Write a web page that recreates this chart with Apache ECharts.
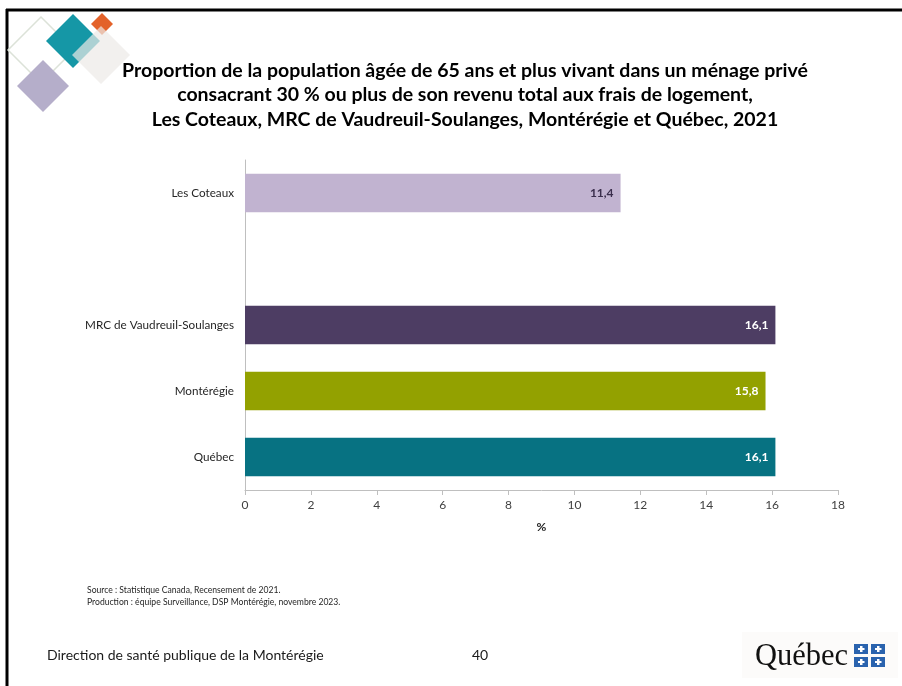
<!DOCTYPE html>
<html>
<head>
<meta charset="utf-8">
<script src="https://cdn.jsdelivr.net/npm/echarts@6/dist/echarts.min.js"></script>
<style>
  html, body { margin: 0; padding: 0; background: #fff; }
  #chart { width: 902px; height: 686px; }
</style>
</head>
<body>
<div id="chart"></div>
<script>
// Territories (an empty slot separates the municipality from the larger regions)
const categories = ['Les Coteaux', '', 'MRC de Vaudreuil-Soulanges', 'Montérégie', 'Québec'];
const values = [11.4, null, 16.1, 15.8, 16.1];
const barColors = ['#C1B3D0', 'transparent', '#4D3D63', '#93A100', '#077282'];
const labelColors = ['#3A2E4C', '#fff', '#ffffff', '#ffffff', '#ffffff'];
const xTicks = [0, 2, 4, 6, 8, 10, 12, 14, 16, 18];

const titleLines = [
  'Proportion de la population âgée de 65 ans et plus vivant dans un ménage privé',
  'consacrant 30 % ou plus de son revenu total aux frais de logement,',
  'Les Coteaux, MRC de Vaudreuil-Soulanges, Montérégie et Québec, 2021'
];
const sourceLines = [
  'Source : Statistique Canada, Recensement de 2021.',
  'Production : équipe Surveillance, DSP Montérégie, novembre 2023.'
];

const FONT = 'Lato, "Open Sans", sans-serif';
const fmt = v => String(v).replace('.', ',');

function diamond(cx, cy, r) {
  return [[cx, cy - r], [cx + r, cy], [cx, cy + r], [cx - r, cy]];
}

const chart = echarts.init(document.getElementById('chart'), null, { renderer: 'canvas' });

chart.setOption({
  backgroundColor: '#ffffff',
  animation: false,
  grid: { left: 245, right: 64, top: 160, bottom: 196 },
  xAxis: {
    type: 'value',
    min: 0, max: 18, interval: 2,
    name: '%',
    nameLocation: 'middle',
    nameGap: 31,
    nameTextStyle: { fontFamily: FONT, fontSize: 12, fontWeight: 'bold', color: '#222' },
    axisLine: { show: true, lineStyle: { color: '#BFBFBF', width: 1 } },
    axisTick: { show: true, length: 5, lineStyle: { color: '#BFBFBF' } },
    axisLabel: { fontFamily: FONT, fontSize: 12, color: '#404040', margin: 9,
      formatter: v => xTicks.includes(v) ? String(v) : '' },
    splitLine: { show: false }
  },
  yAxis: {
    type: 'category',
    inverse: true,
    data: categories,
    axisLine: { show: true, lineStyle: { color: '#BFBFBF', width: 1 } },
    axisTick: { show: false },
    axisLabel: { fontFamily: FONT, fontSize: 11.7, color: '#262626', margin: 11 }
  },
  series: [{
    type: 'bar',
    barCategoryGap: '42%',
    data: values.map((v, i) => ({
      value: v,
      itemStyle: { color: barColors[i] },
      label: { color: labelColors[i] }
    })),
    label: {
      show: true,
      position: 'insideRight',
      distance: 7,
      fontFamily: FONT,
      fontSize: 12,
      fontWeight: 'bold',
      formatter: p => p.value == null ? '' : fmt(p.value)
    }
  }],
  graphic: [
    // slide frame
    { type: 'line', shape: { x1: 6, y1: 10, x2: 902, y2: 10 }, style: { stroke: '#000', lineWidth: 3 } },
    { type: 'line', shape: { x1: 7, y1: 9, x2: 7, y2: 686 }, style: { stroke: '#000', lineWidth: 3 } },
    // decorative diamonds
    { type: 'polygon', shape: { points: diamond(41, 50, 33) }, style: { fill: 'none', stroke: '#DCE2D8', lineWidth: 1.5 } },
    { type: 'polygon', shape: { points: diamond(43, 86, 26) }, style: { fill: '#B5AECA' } },
    { type: 'polygon', shape: { points: diamond(73, 41, 27) }, style: { fill: '#1597A6' } },
    { type: 'polygon', shape: { points: diamond(102, 24, 11) }, style: { fill: '#E3622A' } },
    { type: 'polygon', shape: { points: diamond(101, 55, 29) }, style: { fill: '#EDEAE7', opacity: 0.7 } },
    // title
    ...titleLines.map((t, i) => ({
      type: 'text',
      style: { text: t, x: 465, y: 60.5 + i * 24.5, textAlign: 'center', textVerticalAlign: 'top',
        fontFamily: FONT, fontSize: 19.5, fontWeight: 'bold', fill: '#000' }
    })),
    // source notes
    ...sourceLines.map((t, i) => ({
      type: 'text', left: 87, top: 586 + i * 12,
      style: { text: t, fontFamily: FONT, fontSize: 8.6, fill: '#262626' }
    })),
    // footer
    { type: 'text', left: 47, top: 648, style: { text: 'Direction de santé publique de la Montérégie', fontFamily: FONT, fontSize: 14, fill: '#1a1a1a' } },
    { type: 'text', left: 472, top: 648, style: { text: '40', fontFamily: FONT, fontSize: 14, fill: '#1a1a1a' } },
    // Québec signature
    { type: 'rect', shape: { x: 742, y: 632, width: 156, height: 46 }, style: { fill: '#FCFBFA' } },
    { type: 'text', left: 755, top: 641, style: { text: 'Québec', fontFamily: '"Liberation Serif", "DejaVu Serif", serif', fontSize: 30.5, fill: '#111' } },
    ...[[854, 644], [871, 644], [854, 657], [871, 657]].map(([x, y]) => ({
      type: 'group', children: [
        { type: 'rect', shape: { x: x, y: y, width: 14, height: 10 }, style: { fill: '#2A63AE' } },
        { type: 'rect', shape: { x: x + 6, y: y + 2, width: 2.5, height: 6 }, style: { fill: '#fff' } },
        { type: 'rect', shape: { x: x + 4, y: y + 4, width: 6.5, height: 2 }, style: { fill: '#fff' } }
      ]
    }))
  ]
});
</script>
</body>
</html>
